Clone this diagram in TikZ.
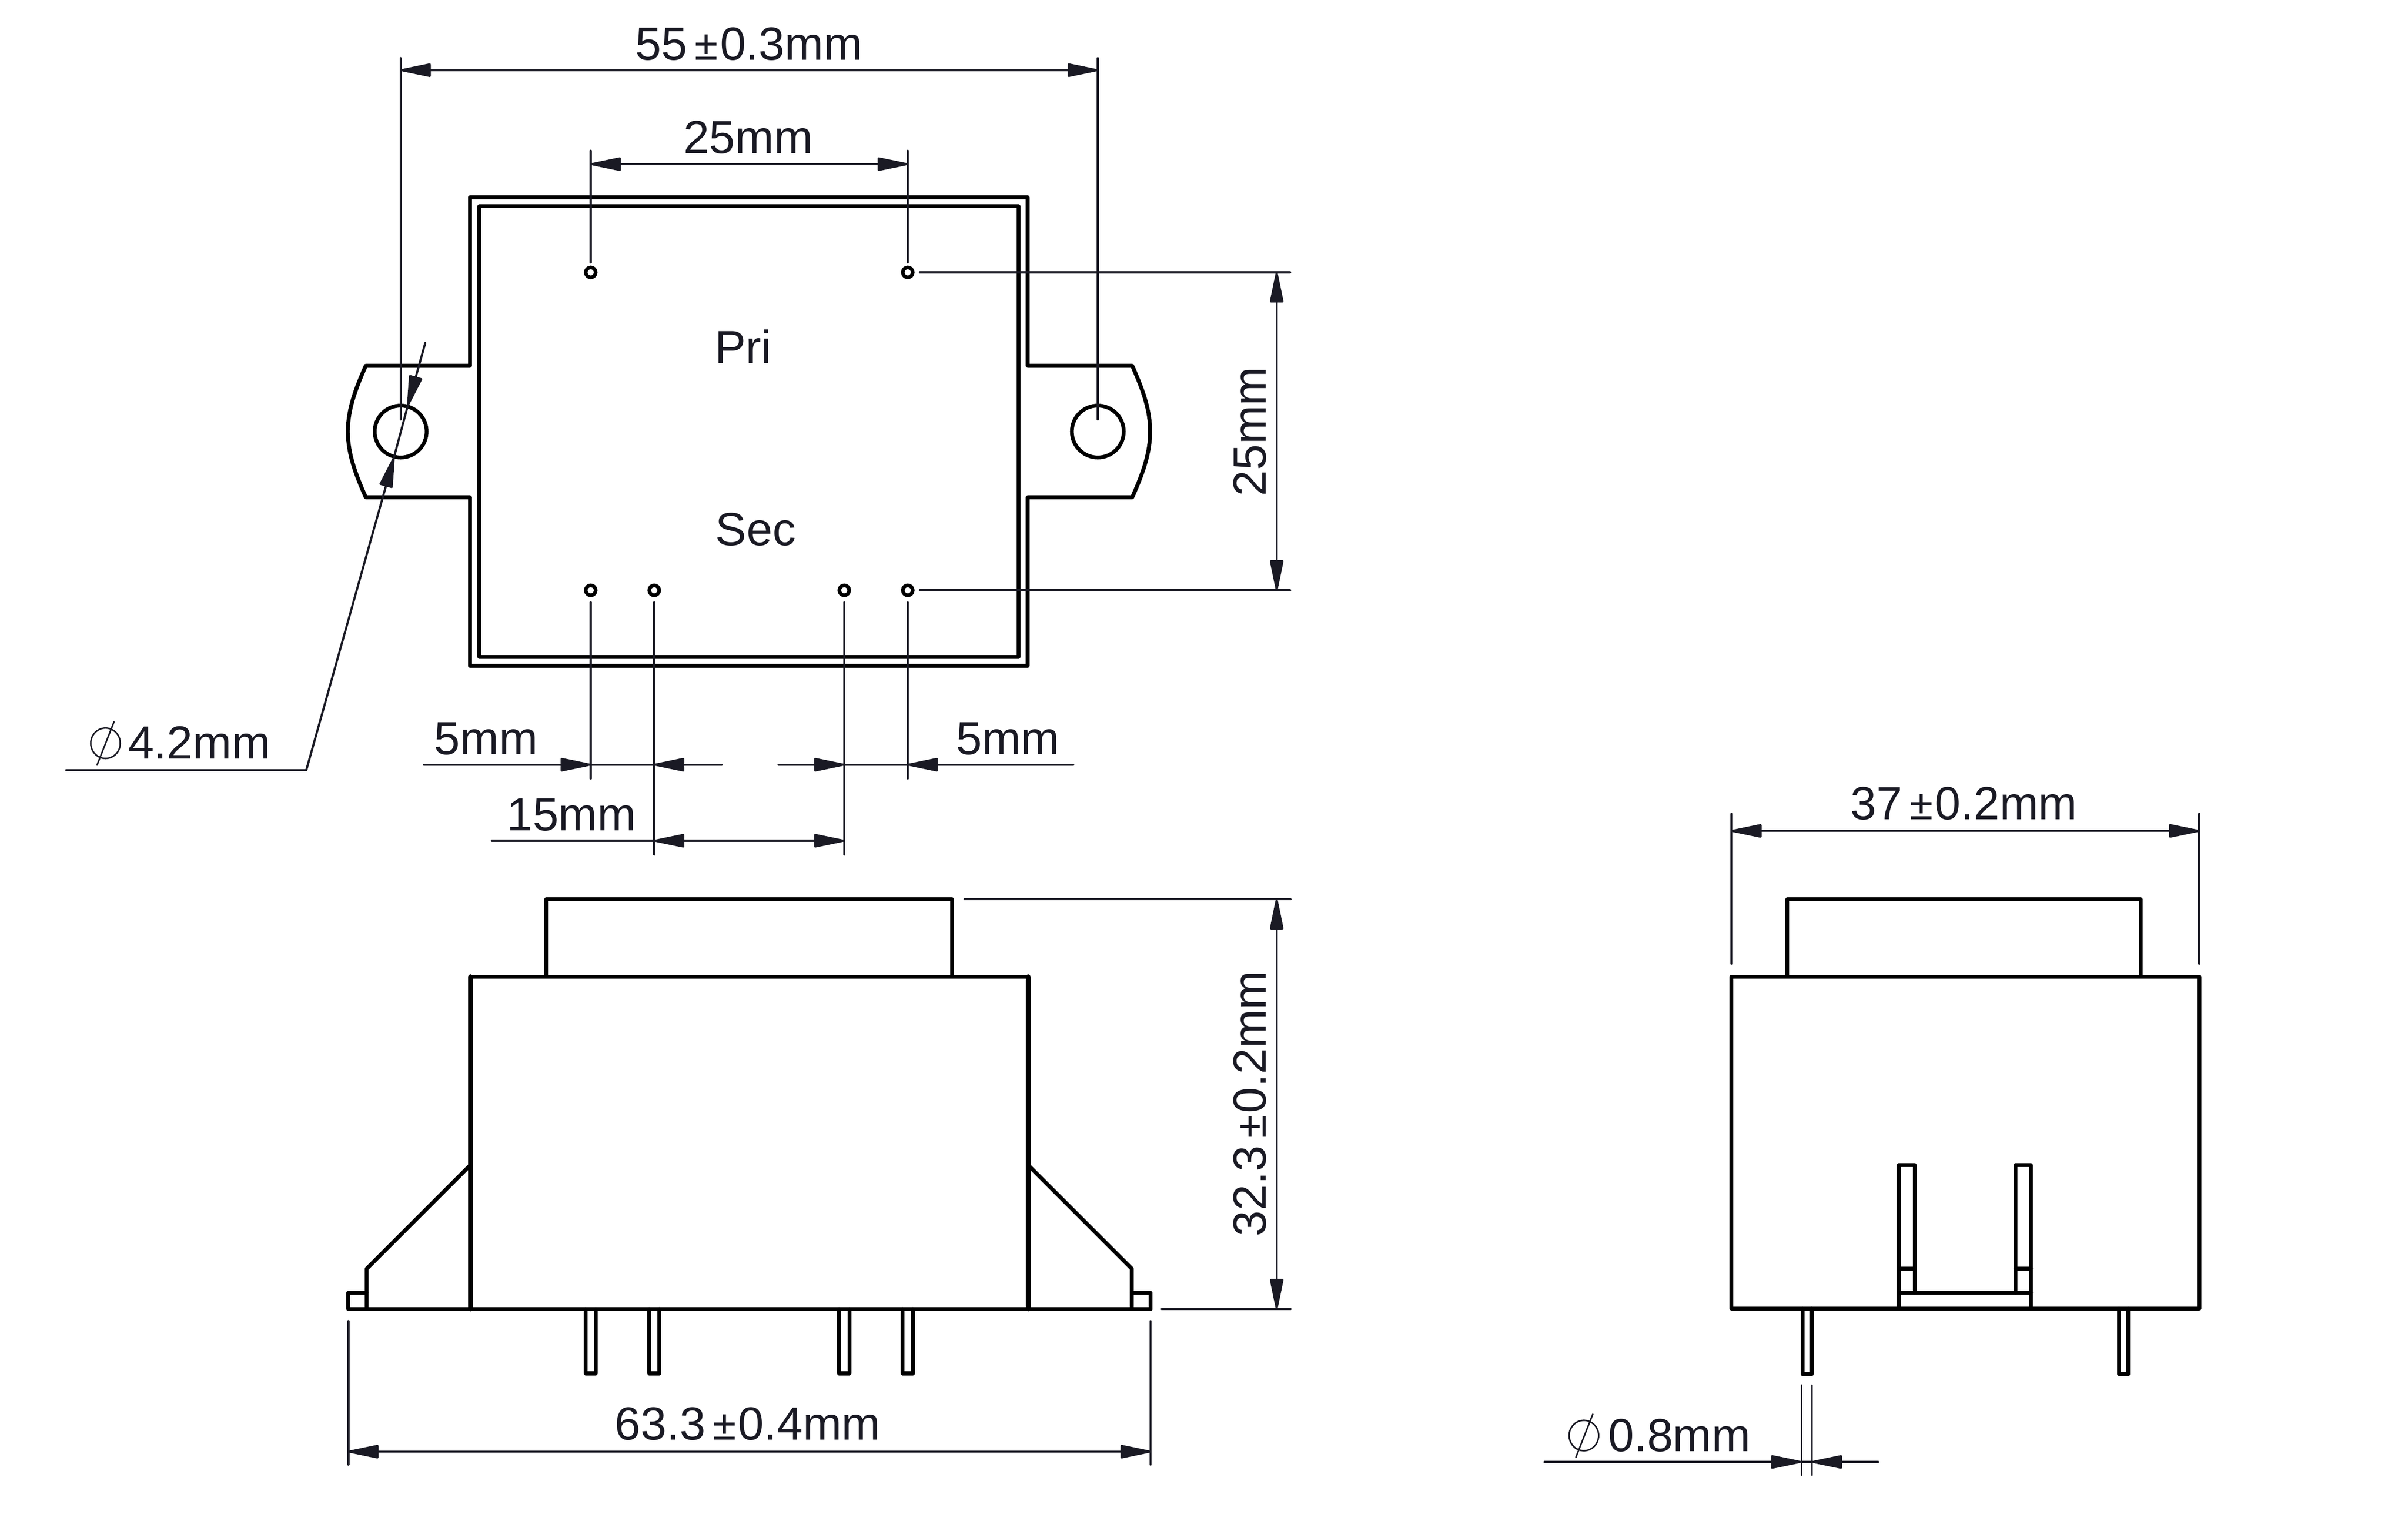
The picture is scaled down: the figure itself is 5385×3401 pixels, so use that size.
\documentclass[tikz,border=0pt]{standalone}
\usepackage{fontspec}
\setmainfont{Liberation Sans}
\usetikzlibrary{arrows.meta}
\definecolor{dimc}{HTML}{1A1A24}
\newcommand{\pmx}{{\fontsize{17pt}{18pt}\selectfont\ }{\fontsize{27pt}{28pt}\selectfont ±}\kern1.2pt }
\tikzset{
  body/.style={draw=black,line width=2.5pt,line join=round,line cap=round},
  wall/.style={draw=black,line width=3pt,line cap=round},
  dimline/.style={draw=dimc,line width=1.35pt,line cap=round},
  fine/.style={draw=dimc,line width=0.95pt,line cap=round},
  tipd/.style={-{Triangle[length=22pt,width=8.6pt,round]}},
  tipb/.style={{Triangle[length=22pt,width=8.6pt,round]}-{Triangle[length=22pt,width=8.6pt,round]}},
  label/.style={text=dimc,inner sep=0pt,font=\fontsize{29.6pt}{30pt}\selectfont,anchor=base},
  pinhole/.style={circle,draw=black,fill=white,line width=2.3pt,inner sep=0pt,minimum size=6.3pt},
  mounthole/.style={circle,draw=black,line width=2.4pt,inner sep=0pt,minimum size=33pt},
}
\begin{document}
\begin{tikzpicture}[x=0.01cm,y=-0.01cm]
\useasboundingbox[fill=white] (0,0) rectangle (5385,3401);

% ---- top view
\draw[body] (1051,441) -- (2298,441) -- (2298,818) -- (2532,818)
  .. controls (2555,870) and (2572,915) .. (2572,965)
  .. controls (2572,1015) and (2555,1060) .. (2532,1112)
  -- (2298,1112) -- (2298,1489) -- (1051,1489) -- (1051,1112) -- (818,1112)
  .. controls (795,1060) and (778,1015) .. (778,965)
  .. controls (778,915) and (795,870) .. (818,818) -- (1051,818) -- cycle;
\draw[body] (1072,461) rectangle (2278,1469);
\node[mounthole] (hL) at (896,965) {};
\node[mounthole] (hR) at (2455,965) {};
\node[pinhole] (p1) at (1321,609) {};
\node[pinhole] (p2) at (2030,609) {};
\node[pinhole] (p3) at (1321,1320) {};
\node[pinhole] (p4) at (1463,1320) {};
\node[pinhole] (p5) at (1888,1320) {};
\node[pinhole] (p6) at (2030,1320) {};
\node[label] (pri) at (1662,813) {Pri};
\node[label] (sec) at (1690,1220) {Sec};

% ---- front view
\draw[body] (1221,2184) -- (1221,2011) -- (2129,2011) -- (2129,2184);
\draw[body] (1052,2184) -- (2299,2184);
\draw[wall] (1052,2184) -- (1052,2927);
\draw[wall] (2299,2184) -- (2299,2927);
\draw[body] (779,2927) -- (2573,2927);
\draw[body] (1052,2605) -- (820,2837) -- (820,2927);
\draw[body] (2299,2605) -- (2531,2837) -- (2531,2927);
\draw[body] (820,2891) -- (779,2891) -- (779,2927);
\draw[body] (2531,2891) -- (2573,2891) -- (2573,2927);
\foreach \px in {1321,1463,1888,2030}
  \draw[body] (\px-11.5,2927) -- (\px-11.5,3071) -- (\px+11.5,3071) -- (\px+11.5,2927);

% ---- side view
\draw[body] (3997,2184) -- (3997,2011) -- (4787,2011) -- (4787,2184);
\draw[body] (3872,2184) rectangle (4918,2926);
\draw[body] (4246,2926) -- (4246,2605) -- (4282,2605) -- (4282,2891);
\draw[body] (4542,2926) -- (4542,2605) -- (4507,2605) -- (4507,2891);
\draw[body] (4246,2891) -- (4542,2891);
\draw[body] (4246,2837) -- (4282,2837);
\draw[body] (4507,2837) -- (4542,2837);
\foreach \px in {4041,4749}
  \draw[body] (\px-10,2926) -- (\px-10,3073) -- (\px+10,3073) -- (\px+10,2926);

% ---- dimension 55
\coordinate (a55) at (896,157);
\coordinate (b55) at (2455,157);
\draw[dimline] (896,130) -- (896,938);
\draw[dimline] (2455,130) -- (2455,938);
\draw[dimline,tipb] (a55) -- (b55);
\node[label] (t55) at (1675,134) {55\pmx 0.3mm};

% ---- dimension 25 top
\draw[dimline] (1321,587) -- (1321,337);
\draw[dimline] (2030,587) -- (2030,337);
\draw[dimline,tipb] (1321,367) -- (2030,367);
\node[label] (t25a) at (1673,343) {25mm};

% ---- dimension 25 right
\draw[dimline] (2057,609) -- (2885,609);
\draw[dimline] (2057,1320) -- (2885,1320);
\draw[dimline,tipb] (2855,609) -- (2855,1320);
\node[label,rotate=90] (t25b) at (2831,965) {25mm};

% ---- dia 4.2
\coordinate (lk) at (685,1722);
\draw[dimline] (148,1722) -- (lk);
\draw[dimline,tipd] (lk) -- (881,1023);
\draw[dimline,tipd] (951,767) -- (912,907);
\draw[dimline] (881,1023) -- (912,907);
\draw[fine] (236,1662) ellipse [x radius=33,y radius=34];
\draw[fine] (255,1614) -- (217,1711);
\node[label,anchor=base west] (t42) at (286,1697) {4.2mm};

% ---- dimensions 5 and 15
\draw[dimline] (1321,1347) -- (1321,1741);
\draw[dimline] (1463,1347) -- (1463,1911);
\draw[dimline] (1888,1347) -- (1888,1911);
\draw[dimline] (2030,1347) -- (2030,1741);
\draw[dimline,tipd] (948,1710) -- (1321,1710);
\draw[dimline,tipd] (1614,1710) -- (1463,1710);
\draw[dimline] (1321,1710) -- (1463,1710);
\draw[dimline,tipd] (1741,1710) -- (1888,1710);
\draw[dimline,tipd] (2400,1710) -- (2030,1710);
\draw[dimline] (1888,1710) -- (2030,1710);
\draw[dimline] (1100,1880) -- (1463,1880);
\draw[dimline,tipb] (1463,1880) -- (1888,1880);
\node[label] (t5a) at (1087,1687) {5mm};
\node[label] (t5b) at (2254,1687) {5mm};
\node[label] (t15) at (1278,1857) {15mm};

% ---- dimension 32.3
\draw[dimline] (2157,2011) -- (2886,2011);
\draw[dimline] (2598,2927) -- (2886,2927);
\draw[dimline,tipb] (2855,2011) -- (2855,2927);
\node[label,rotate=90] (t323) at (2831,2468) {32.3\pmx 0.2mm};

% ---- dimension 63.3
\draw[dimline] (779,2954) -- (779,3275);
\draw[dimline] (2573,2954) -- (2573,3275);
\draw[dimline,tipb] (779,3246) -- (2573,3246);
\node[label] (t633) at (1672,3220) {63.3\pmx 0.4mm};

% ---- dimension 37
\draw[dimline] (3872,1820) -- (3872,2155);
\draw[dimline] (4918,1820) -- (4918,2155);
\draw[dimline,tipb] (3872,1858) -- (4918,1858);
\node[label] (t37) at (4392,1833) {37\pmx 0.2mm};

% ---- dia 0.8
\draw[fine] (4028,3097) -- (4028,3299);
\draw[fine] (4052,3097) -- (4052,3299);
\draw[dimline,tipd] (3454,3269) -- (4028,3269);
\draw[dimline,tipd] (4200,3269) -- (4052,3269);
\draw[dimline] (4028,3269) -- (4052,3269);
\draw[fine] (3542,3210) ellipse [x radius=33,y radius=34];
\draw[fine] (3562,3162) -- (3524,3259);
\node[label,anchor=base west] (t08) at (3596,3246) {0.8mm};
\end{tikzpicture}
\end{document}
